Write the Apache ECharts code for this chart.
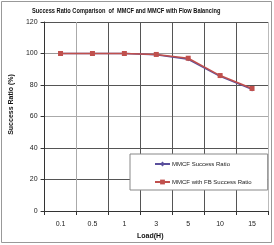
<!DOCTYPE html>
<html><head><meta charset="utf-8">
<script src="https://cdn.jsdelivr.net/npm/echarts@6/dist/echarts.min.js"></script>
<style>html,body{margin:0;padding:0;background:#fff}#c{width:274px;height:245px}</style>
</head><body><div id="c"></div>
<script>
const categories = ['0.1', '0.5', '1', '3', '5', '10', '15'];
const mmcf = [100, 100, 100, 99.2, 96.3, 85.5, 77.2];
const mmcfFB = [100, 100, 100, 99.4, 97, 86, 77.8];
const yTicks = [0, 20, 40, 60, 80, 100, 120];
const titleText = 'Success Ratio Comparison  of  MMCF and MMCF with Flow Balancing';
const FONT = "'Liberation Sans',Arial,sans-serif";

const chart = echarts.init(document.getElementById('c'), null, {renderer: 'canvas'});
chart.setOption({
  animation: false,
  backgroundColor: '#fff',
  graphic: [
    {type: 'rect', shape: {x: 1.5, y: 1.5, width: 270, height: 241}, style: {fill: 'none', stroke: '#999', lineWidth: 1}, z: -1},
    {type: 'text', x: 32, y: 11, scaleX: 0.81, style: {text: titleText, fontSize: 7, fontWeight: 'bold', fontFamily: FONT, fill: '#111', verticalAlign: 'middle'}}
  ],
  grid: {left: 27, right: 6, top: 22, bottom: 34},
  xAxis: {type: 'category', data: categories, boundaryGap: true,
    name: 'Load(H)', nameLocation: 'middle', nameGap: 20,
    nameTextStyle: {fontSize: 7, fontWeight: 'bold', fontFamily: FONT, color: '#111', padding: [0, 12, 0, 0]},
    axisLine: {lineStyle: {color: '#333', width: 1}},
    axisTick: {show: true, interval: 0, length: 4, lineStyle: {color: '#333'}},
    axisLabel: {fontSize: 7, fontFamily: FONT, color: '#222', margin: 10, interval: 0},
    splitLine: {show: true, interval: 0, lineStyle: {color: ['#555', '#aaa', '#555', '#555', '#555', '#555', '#555', '#bbb'], width: 1}}
  },
  yAxis: {type: 'value', min: yTicks[0], max: yTicks[yTicks.length - 1], interval: 20,
    name: 'Success Ratio (%)', nameLocation: 'middle', nameGap: 19, nameRotate: 90,
    nameTextStyle: {fontSize: 7, fontWeight: 'bold', fontFamily: FONT, color: '#111', padding: [0, 0, 0, 24]},
    axisLine: {show: true, lineStyle: {color: '#333'}},
    axisTick: {show: true, length: 4, lineStyle: {color: '#333'}},
    axisLabel: {fontSize: 7, fontFamily: FONT, color: '#222', margin: 7},
    splitLine: {show: true, lineStyle: {color: ['#555', '#555', '#555', '#aaa', '#555', '#999', '#555'], width: 1}}
  },
  legend: {orient: 'vertical', left: 130, top: 154, itemWidth: 15, itemHeight: 6, itemGap: 12,
    padding: [7, 16, 5, 24], backgroundColor: '#fff', borderColor: '#888', borderWidth: 1,
    textStyle: {fontSize: 6, fontFamily: FONT, color: '#222', padding: [0, 0, 0, -3]},
    data: ['MMCF Success Ratio', 'MMCF with FB Success Ratio']},
  series: [
    {name: 'MMCF Success Ratio', type: 'line', data: mmcf, symbol: 'diamond', symbolSize: 4,
      itemStyle: {color: '#5a4f9c'}, lineStyle: {color: '#5a4f9c', width: 1.5}},
    {name: 'MMCF with FB Success Ratio', type: 'line', data: mmcfFB, symbol: 'rect', symbolSize: 5,
      itemStyle: {color: '#c0504d'}, lineStyle: {color: '#c0504d', width: 1.5}, z: 3}
  ]
});
</script></body></html>
